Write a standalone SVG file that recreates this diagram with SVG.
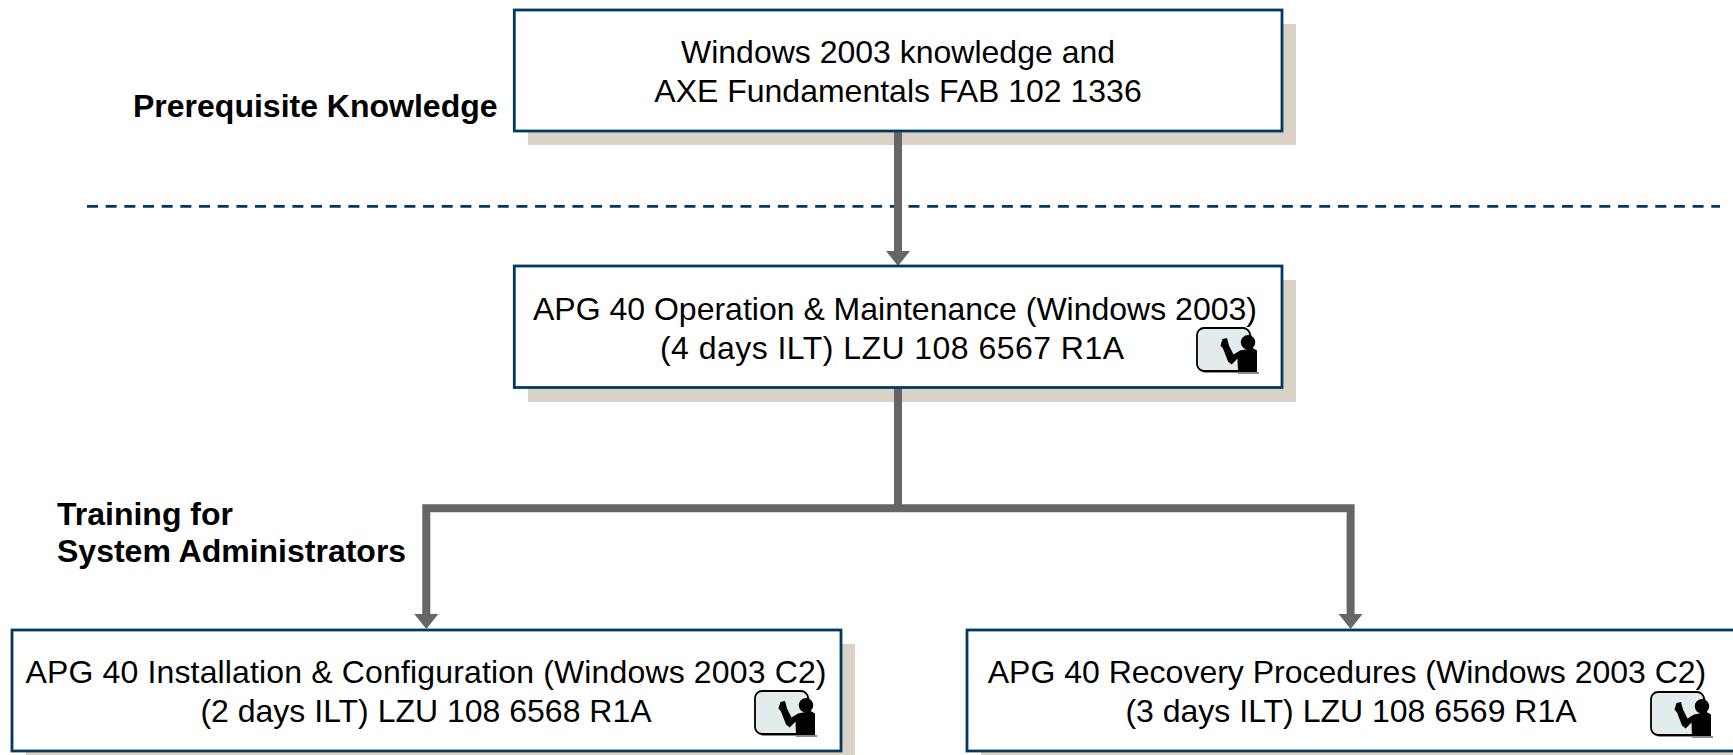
<svg xmlns="http://www.w3.org/2000/svg" width="1733" height="755" viewBox="0 0 1733 755">
<style>
text{font-family:"Liberation Sans",Arial,sans-serif;font-size:32px;fill:#000}
.c{text-anchor:middle}
.b{font-weight:bold}
.box{fill:#fff;stroke:#003a63;stroke-width:2.8}
.sh{fill:#d9d2c5}
.line{fill:none;stroke:#666;stroke-width:8}
.head{fill:#666}
</style>
<defs>
<g id="icon">
<rect x="2" y="2" width="53" height="43" rx="7" fill="#8a8a8a"/>
<rect x="0" y="0" width="53" height="43" rx="7" fill="#e3ecec" stroke="#000" stroke-width="1.8"/>
<circle cx="51" cy="14.3" r="7.2" fill="#000"/>
<polygon fill="#000" points="43,22.5 55.7,20 60,22.5 60,44 41,44 40.5,30.5 34.7,36.5 31,33.5 26,20.5 23.5,17.5 25.5,11 30,10 32,17.5 36.5,26.5"/>
<rect x="41" y="44" width="21" height="2" fill="#8a8a8a"/>
</g>
</defs>
<g id="shadows">
<rect class="sh" x="528" y="24" width="768" height="121"/>
<rect class="sh" x="528" y="280" width="768" height="122"/>
<rect class="sh" x="26" y="644" width="829" height="121"/>
<rect class="sh" x="981" y="644" width="780" height="121"/>
</g>
<line x1="87" y1="206.3" x2="1720" y2="206.3" stroke="#003a63" stroke-width="2.8" stroke-dasharray="11 7.67"/>
<g id="connectors">
<path class="line" d="M898 131V252"/>
<polygon class="head" points="886,251 910,251 898,266"/>
<path class="line" d="M898 388V508.3"/>
<path class="line" d="M426.3 615V508.3H1350.6V615"/>
<polygon class="head" points="414.3,614 438.3,614 426.3,629"/>
<polygon class="head" points="1338.6,614 1362.6,614 1350.6,629"/>
</g>
<g id="node-prereq">
<rect class="box" x="514.3" y="10" width="767.7" height="121"/>
<text class="c" x="898" y="63">Windows 2003 knowledge and</text>
<text class="c" x="898" y="102">AXE Fundamentals FAB 102 1336</text>
</g>
<g id="node-om">
<rect class="box" x="514.3" y="266" width="767.7" height="121.5"/>
<text x="533" y="320">APG 40 Operation &amp; Maintenance (Windows 2003)</text>
<text x="660" y="359" textLength="464">(4 days ILT) LZU 108 6567 R1A</text>
<use href="#icon" x="1197" y="328"/>
</g>
<g id="node-install">
<rect class="box" x="12" y="630" width="829" height="121"/>
<text x="25.5" y="683" textLength="801">APG 40 Installation &amp; Configuration (Windows 2003 C2)</text>
<text class="c" x="426" y="722">(2 days ILT) LZU 108 6568 R1A</text>
<use href="#icon" x="755" y="691"/>
</g>
<g id="node-recovery">
<rect class="box" x="967" y="630" width="780" height="121"/>
<text class="c" x="1347" y="683">APG 40 Recovery Procedures (Windows 2003 C2)</text>
<text class="c" x="1351" y="722">(3 days ILT) LZU 108 6569 R1A</text>
<use href="#icon" x="1651" y="692"/>
</g>
<g id="labels">
<text class="b" x="133" y="117">Prerequisite Knowledge</text>
<text class="b" x="57" y="525">Training for</text>
<text class="b" x="57" y="562">System Administrators</text>
</g>
</svg>
